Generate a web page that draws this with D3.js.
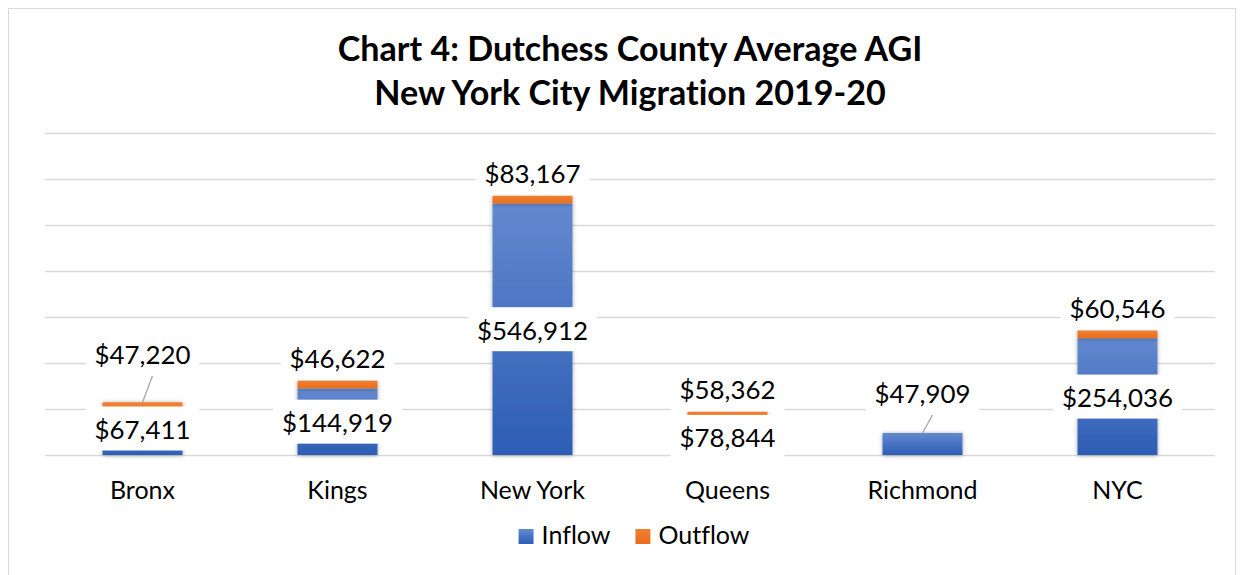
<!DOCTYPE html>
<html>
<head>
<meta charset="utf-8">
<script src="https://cdn.jsdelivr.net/npm/d3@7"></script>
<style>
  html, body { margin: 0; padding: 0; background: #fff; }
  svg { display: block; }
  text { font-family: Lato, "Open Sans", sans-serif; fill: #000; font-variant-ligatures: none; font-feature-settings: "liga" 0; }
</style>
</head>
<body>
<svg id="chart" width="1244" height="575"></svg>
<script>
// ---------------- data ----------------
const titleLines = ["Chart 4: Dutchess County Average AGI", "New York City Migration 2019-20"];
const categories = ["Bronx", "Kings", "New York", "Queens", "Richmond", "NYC"];
// Average AGI of inflow (labels and blue segment heights)
const inflowAGI  = [67411, 144919, 546912, 78844, 47909, 254036];
// Outflow labels (Richmond has no outflow label)
const outflowAGI = [47220, 46622, 83167, 58362, null, 60546];
// Orange segment heights as drawn in the picture
const outflowBar = [47220, 16500, 16500, 15000, 0, 16500];
const seriesNames = ["Inflow", "Outflow"];
const gridTicks = [0, 100000, 200000, 300000, 400000, 500000, 600000, 700000];

// ---------------- layout ----------------
const W = 1244, H = 575;
const plot = { left: 45, right: 1215, top: 133, bottom: 455 };
const svg = d3.select("#chart");
const fmt = v => "$" + d3.format(",")(v);

// manual label nudges (like hand-moved Excel labels)
const inflowNudge = { "Bronx": -11 };
const leaderLabels = { "Bronx": "outflow", "Richmond": "inflow" };

const defs = svg.append("defs");
const gB = defs.append("linearGradient").attr("id", "gBlue").attr("x1", 0).attr("y1", 0).attr("x2", 0).attr("y2", 1);
gB.append("stop").attr("offset", "0%").attr("stop-color", "#6389cf");
gB.append("stop").attr("offset", "100%").attr("stop-color", "#2d5db5");
const gO = defs.append("linearGradient").attr("id", "gOrange").attr("x1", 0).attr("y1", 0).attr("x2", 0).attr("y2", 1);
gO.append("stop").attr("offset", "0%").attr("stop-color", "#f07f33");
gO.append("stop").attr("offset", "100%").attr("stop-color", "#e86d1c");
const sh = defs.append("filter").attr("id", "shadow").attr("x", "-20%").attr("y", "-20%").attr("width", "140%").attr("height", "140%");
sh.append("feDropShadow").attr("dx", 0).attr("dy", 0.5).attr("stdDeviation", 2.2)
  .attr("flood-color", "#000").attr("flood-opacity", 0.35);

// chart border
svg.append("rect").attr("x", 8.5).attr("y", 8.5).attr("width", 1227).attr("height", 600)
  .attr("fill", "none").attr("stroke", "#d9d9d9").attr("stroke-width", 1);

// scales
const x = d3.scaleBand().domain(categories).range([plot.left, plot.right])
  .paddingInner(0.59).paddingOuter(0.295);
const y = d3.scaleLinear().domain([0, 700000]).range([plot.bottom, plot.top]);

// gridlines
svg.append("g").selectAll("line").data(gridTicks).join("line")
  .attr("x1", plot.left).attr("x2", plot.right)
  .attr("y1", d => Math.round(y(d)) + 0.5).attr("y2", d => Math.round(y(d)) + 0.5)
  .attr("stroke", "#d9d9d9").attr("stroke-width", 1.3);

// title
const titleText = svg.append("g").selectAll("text").data(titleLines).join("text")
  .attr("x", 630).attr("y", (d, i) => [61, 105][i])
  .attr("text-anchor", "middle").attr("font-weight", 700).attr("font-size", 30)
  .text(d => d);
{
  const w = titleText.nodes()[0].getComputedTextLength();
  titleText.attr("font-size", 30 * 585 / w);
}

// bars
const stackData = categories.map((c, i) => ({ c, inflow: inflowAGI[i], outflow: outflowBar[i] }));
const stack = d3.stack().keys(["inflow", "outflow"])(stackData);
const fills = ["url(#gBlue)", "url(#gOrange)"];
const barsG = svg.append("g");
stack.forEach((layer, li) => {
  barsG.append("g").attr("filter", "url(#shadow)").selectAll("rect").data(layer).join("rect")
    .attr("x", d => x(d.data.c)).attr("width", x.bandwidth())
    .attr("y", d => y(d[1])).attr("height", d => Math.max(0, y(d[0]) - y(d[1])))
    .attr("fill", fills[li]);
});

// data labels
const labelFS = (() => {
  const t = svg.append("text").attr("font-size", 26).text("$546,912");
  const w = t.node().getComputedTextLength(); t.remove();
  return 26 * 111 / w;
})();
const labels = [];
categories.forEach((c, i) => {
  const cx = x(c) + x.bandwidth() / 2;
  const inTop = y(inflowAGI[i]);
  const totTop = y(inflowAGI[i] + outflowBar[i]);
  if (leaderLabels[c] === "inflow") {
    labels.push({ cx, cy: inTop - 40, text: fmt(inflowAGI[i]), leaderTo: inTop });
  } else {
    labels.push({ cx, cy: (y(0) + inTop) / 2 + (inflowNudge[c] || 0), text: fmt(inflowAGI[i]) });
  }
  if (outflowAGI[i] != null) {
    if (leaderLabels[c] === "outflow") {
      labels.push({ cx, cy: totTop - 48.5, text: fmt(outflowAGI[i]), leaderTo: totTop });
    } else {
      labels.push({ cx, cy: totTop - 23, text: fmt(outflowAGI[i]) });
    }
  }
});
const labG = svg.append("g");
labels.forEach(l => {
  if (l.leaderTo != null) {
    labG.append("line").attr("x1", l.cx + 10).attr("y1", l.cy + 22)
      .attr("x2", l.cx).attr("y2", l.leaderTo)
      .attr("stroke", "#a6a6a6").attr("stroke-width", 1.3);
  }
  const g = labG.append("g");
  const rect = g.append("rect").attr("fill", "#fff");
  const t = g.append("text").attr("x", l.cx).attr("y", l.cy + 10.5)
    .attr("text-anchor", "middle").attr("font-size", labelFS).text(l.text);
  const tw = t.node().getComputedTextLength();
  rect.attr("x", l.cx - tw / 2 - 9).attr("width", tw + 18)
    .attr("y", l.cy - 22).attr("height", 44);
});

// category axis labels
svg.append("g").selectAll("text").data(categories).join("text")
  .attr("x", d => x(d) + x.bandwidth() / 2).attr("y", 499)
  .attr("text-anchor", "middle").attr("font-size", 25).text(d => d);

// legend
const legG = svg.append("g");
const legFills = ["url(#gBlue)", "url(#gOrange)"];
let lx = 0;
seriesNames.forEach((n, i) => {
  const g = legG.append("g");
  g.append("rect").attr("x", lx).attr("y", 529).attr("width", 15).attr("height", 15).attr("fill", legFills[i]);
  const t = g.append("text").attr("x", lx + 23).attr("y", 544).attr("font-size", 25).text(n);
  const tw = t.node().getComputedTextLength();
  lx += 23 + tw + 25;
});
const legW = lx - 25;
legG.attr("transform", `translate(${634 - legW / 2},0)`);
</script>
</body>
</html>
